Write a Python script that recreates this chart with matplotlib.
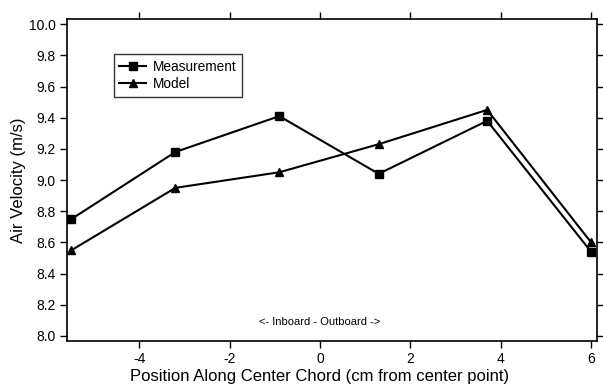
import matplotlib
matplotlib.use("Agg")
import matplotlib.pyplot as plt

plt.rcParams['font.family'] = ['Liberation Sans', 'DejaVu Sans']

# positions along the center chord (cm) and air velocities (m/s)
position = [-5.5, -3.2, -0.9, 1.3, 3.7, 6.0]
measurement = [8.75, 9.18, 9.41, 9.04, 9.38, 8.54]
model = [8.55, 8.95, 9.05, 9.23, 9.45, 8.60]

xticks = [-4, -2, 0, 2, 4, 6]
yticks = [8.0, 8.2, 8.4, 8.6, 8.8, 9.0, 9.2, 9.4, 9.6, 9.8, 10.0]

fig = plt.figure(figsize=(6.03, 3.91), dpi=100)
ax = fig.add_axes([0.111, 0.128, 0.879, 0.823])

ax.plot(position, measurement, color='black', lw=1.5, marker='s', ms=6,
        label='Measurement')
ax.plot(position, model, color='black', lw=1.5, marker='^', ms=6,
        label='Model')

ax.set_xlim(-5.6, 6.13)
ax.set_ylim(7.968, 10.032)
ax.set_xticks(xticks)
ax.set_xticklabels([str(t) for t in xticks])
ax.set_yticks(yticks)
ax.set_yticklabels([f"{t:.1f}" for t in yticks])

ax.tick_params(direction='out', length=5, width=1, labelsize=10, pad=3,
               top=True, right=True, labeltop=False, labelright=False)
for s in ax.spines.values():
    s.set_linewidth(1.2)

ax.set_xlabel('Position Along Center Chord (cm from center point)',
              fontsize=12, labelpad=0)
ax.xaxis.set_label_coords(0.477, -0.088)
ax.set_ylabel('Air Velocity (m/s)', fontsize=12, labelpad=2)

ax.text(0, 8.09, '<- Inboard - Outboard ->', fontsize=8,
        ha='center', va='center')

leg = ax.legend(loc='upper left', bbox_to_anchor=(0.088, 0.891),
                fontsize=9.8, frameon=True, fancybox=False,
                edgecolor='black', handlelength=2.0, borderpad=0.4,
                labelspacing=0.25, handletextpad=0.5, borderaxespad=0)
leg.get_frame().set_linewidth(1.0)

fig.savefig('out.png', dpi=100)
